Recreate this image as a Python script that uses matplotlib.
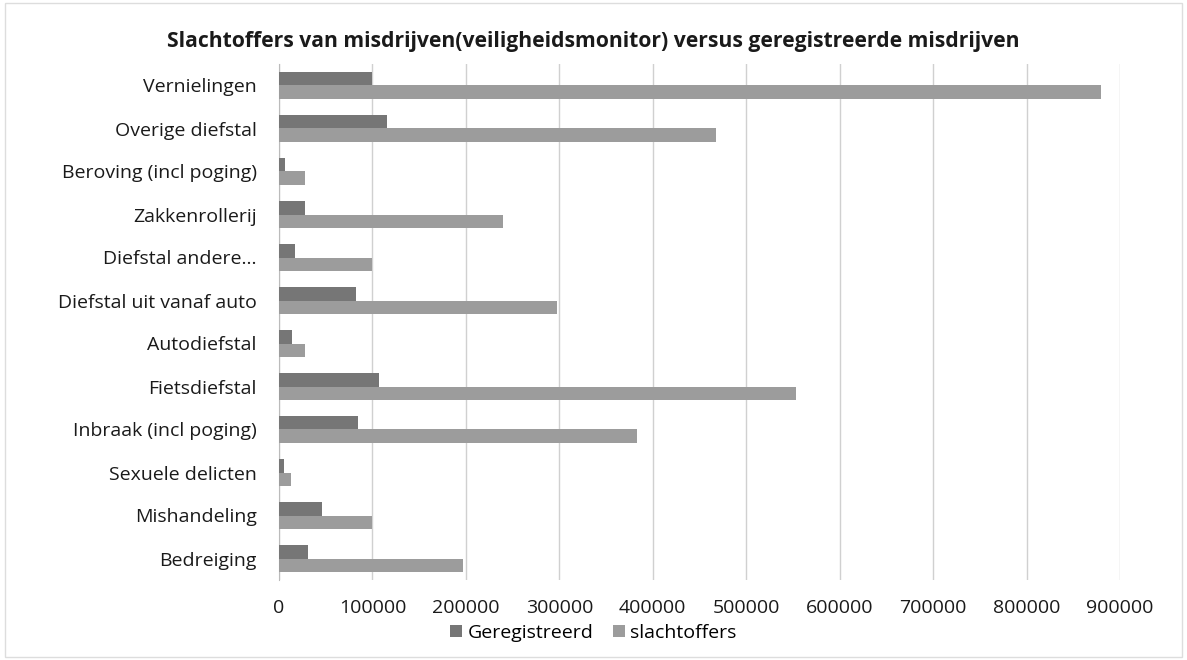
import matplotlib
matplotlib.use("Agg")
import matplotlib.pyplot as plt
import numpy as np

categories = ["Vernielingen", "Overige diefstal", "Beroving (incl poging)", "Zakkenrollerij",
              "Diefstal andere...", "Diefstal uit vanaf auto", "Autodiefstal", "Fietsdiefstal",
              "Inbraak (incl poging)", "Sexuele delicten", "Mishandeling", "Bedreiging"]
geregistreerd = [100000, 116000, 6000, 28000, 17000, 82000, 13500, 107000, 85000, 5000, 46000, 31000]
slachtoffers = [880000, 468000, 28000, 240000, 100000, 297000, 28000, 553000, 383000, 13000, 100000, 197000]
xticks = [0, 100000, 200000, 300000, 400000, 500000, 600000, 700000, 800000, 900000]

plt.rcParams['font.family'] = ['Open Sans', 'DejaVu Sans']

fig = plt.figure(figsize=(11.87, 6.60), dpi=100)
ax = fig.add_axes([279/1187, 1-580/660, (1120-279)/1187, (580-64)/660])

n = len(categories)
y = np.arange(n)[::-1].astype(float)
h = 0.31
ax.barh(y + h/2, geregistreerd, height=h, color="#767676", label="Geregistreerd", zorder=3)
ax.barh(y - h/2, slachtoffers, height=h, color="#9c9c9c", label="slachtoffers", zorder=3)

ax.set_xlim(0, 900000)
ax.set_ylim(-0.5, n - 0.5)
ax.set_yticks(y)
ax.set_yticklabels(categories, fontsize=14, color="#1a1a1a")
ax.set_xticks(xticks)
ax.set_xticklabels([str(v) for v in xticks], fontsize=14, color="#1a1a1a")
ax.tick_params(axis='both', length=0)
ax.tick_params(axis='x', pad=14)
ax.tick_params(axis='y', pad=16)
ax.grid(axis='x', color="#d0d0d0", linewidth=1, zorder=0)
for s in ["top", "right", "bottom"]:
    ax.spines[s].set_visible(False)
ax.spines["left"].set_color("#bbbbbb")

fig.text(0.5, 1-42/660, "Slachtoffers van misdrijven(veiligheidsmonitor) versus geregistreerde misdrijven",
         ha="center", va="center", fontsize=15.2, fontweight="bold", color="#1a1a1a")

fig.legend(loc="center", bbox_to_anchor=(0.5, 1-633/660), ncol=2, frameon=False,
           fontsize=14, handlelength=0.6, handleheight=0.6, columnspacing=1.0, handletextpad=0.3)

fig.patches.append(plt.Rectangle((0.004, 0.004), 0.992, 0.992, transform=fig.transFigure,
                                 fill=False, edgecolor="#dddddd", linewidth=1))

fig.savefig("out.png", dpi=100)
